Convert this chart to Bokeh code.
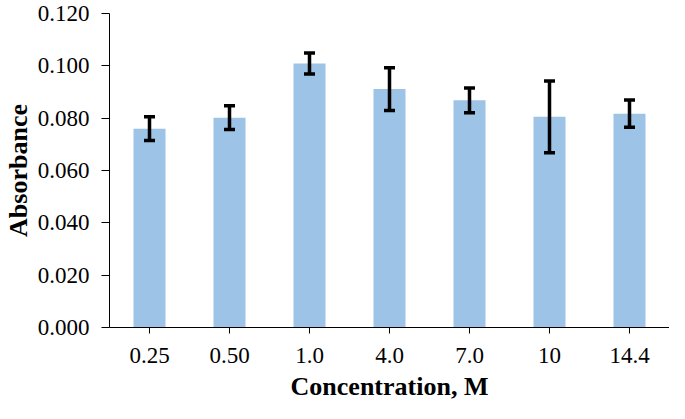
from bokeh.plotting import figure
from bokeh.models import (ColumnDataSource, Whisker, TeeHead, NumeralTickFormatter,
                          FixedTicker, Range1d, FactorRange)
from bokeh.embed import file_html
from bokeh.resources import INLINE

categories = ["0.25", "0.50", "1.0", "4.0", "7.0", "10", "14.4"]
absorbance = [0.0760, 0.0802, 0.1009, 0.0911, 0.0868, 0.0805, 0.0817]
error = [0.0045, 0.0045, 0.0040, 0.0082, 0.0047, 0.0137, 0.0052]
y_ticks = [0.0, 0.02, 0.04, 0.06, 0.08, 0.10, 0.12]

upper = [v + e for v, e in zip(absorbance, error)]
lower = [v - e for v, e in zip(absorbance, error)]
src = ColumnDataSource(dict(cat=categories, val=absorbance, upper=upper, lower=lower))

FONT = "Liberation Serif"

p = figure(x_range=FactorRange(*categories, range_padding=0),
           y_range=Range1d(0, 0.12),
           width=669, height=403, output_backend="svg", toolbar_location=None,
           min_border_left=97, min_border_right=0, min_border_top=13, min_border_bottom=70)

p.vbar(x="cat", top="val", width=0.4, bottom=0, source=src,
       fill_color="#9DC3E6", line_color=None)

w = Whisker(base="cat", upper="upper", lower="lower", source=src,
            line_color="black", line_width=3.5, level="overlay",
            upper_head=TeeHead(size=11, line_color="black", line_width=3.5),
            lower_head=TeeHead(size=11, line_color="black", line_width=3.5))
p.add_layout(w)

p.outline_line_color = None
p.xgrid.visible = False
p.ygrid.visible = False

ya = p.yaxis[0]
ya.ticker = FixedTicker(ticks=y_ticks)
ya.formatter = NumeralTickFormatter(format="0.000")
ya.axis_label = "Absorbance"
ya.axis_label_text_font = FONT
ya.axis_label_text_font_style = "bold"
ya.axis_label_text_font_size = "26px"
ya.axis_label_text_color = "black"
ya.axis_label_standoff = 2
ya.major_label_text_font = FONT
ya.major_label_text_font_size = "23px"
ya.major_label_text_color = "black"
ya.major_label_standoff = 12
ya.major_tick_out = 8
ya.major_tick_in = 0
ya.minor_tick_out = 0
ya.minor_tick_in = 0
ya.axis_line_color = "black"
ya.major_tick_line_color = "black"

xa = p.xaxis[0]
xa.axis_label = "Concentration, M"
xa.axis_label_text_font = FONT
xa.axis_label_text_font_style = "bold"
xa.axis_label_text_font_size = "26px"
xa.axis_label_text_color = "black"
xa.axis_label_standoff = 6
xa.major_label_text_font = FONT
xa.major_label_text_font_size = "23px"
xa.major_label_text_color = "black"
xa.major_label_standoff = 14
xa.major_tick_out = 6
xa.major_tick_in = 0
xa.axis_line_color = "black"
xa.major_tick_line_color = "black"

open("out.html", "w").write(file_html(p, INLINE))
